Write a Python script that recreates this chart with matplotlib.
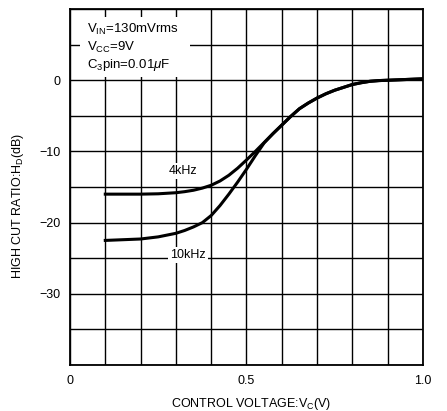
import numpy as np
import matplotlib
matplotlib.use("Agg")
import matplotlib.pyplot as plt
from matplotlib.patches import Rectangle

plt.rcParams["font.family"] = ["Liberation Sans", "DejaVu Sans"]
plt.rcParams["mathtext.fontset"] = "custom"
plt.rcParams["mathtext.rm"] = "Liberation Sans"
plt.rcParams["mathtext.it"] = "Liberation Sans:italic"

# Control voltage Vc (V)
vc = [0.10, 0.15, 0.20, 0.25, 0.30, 0.325, 0.35, 0.375, 0.40, 0.425, 0.45, 0.475,
      0.50, 0.525, 0.55, 0.575, 0.60, 0.625, 0.65, 0.675, 0.70, 0.725, 0.75,
      0.775, 0.80, 0.825, 0.85, 0.875, 0.90, 0.95, 1.00]
# High cut ratio HD (dB)
hd_4k = [-16.0, -16.0, -16.0, -15.95, -15.8, -15.65, -15.45, -15.15, -14.75, -14.15,
         -13.35, -12.35, -11.2, -10.0, -8.75, -7.5, -6.3, -5.1, -4.0, -3.2, -2.5,
         -1.9, -1.4, -1.0, -0.6, -0.35, -0.15, -0.05, 0.0, 0.1, 0.2]
hd_10k = [-22.5, -22.4, -22.3, -22.0, -21.5, -21.1, -20.6, -20.0, -19.0, -17.6,
          -16.0, -14.3, -12.5, -10.6, -8.8, -7.5, -6.3, -5.1, -4.0, -3.2, -2.5,
          -1.9, -1.4, -1.0, -0.6, -0.35, -0.15, -0.05, 0.0, 0.1, 0.2]

x_grid = np.round(np.arange(0, 1.01, 0.1), 1)
x_labels = ["0", "", "", "", "", "0.5", "", "", "", "", "1.0"]
y_grid = np.arange(-40, 11, 5)
y_labels = {0: "0", -10: "\u221210", -20: "\u221220", -30: "\u221230"}
conditions = ["V$_\\mathrm{IN}$=130mVrms", "V$_\\mathrm{CC}$=9V",
              "C$_\\mathrm{3}$pin=0.01$\\mu$F"]

fig = plt.figure(figsize=(4.47, 4.11), dpi=100)
ax = fig.add_axes([0.1566, 0.1119, 0.7897, 0.8661])

ax.plot(vc, hd_4k, color="black", lw=2.2, zorder=3, solid_joinstyle="round")
ax.plot(vc, hd_10k, color="black", lw=2.2, zorder=3, solid_joinstyle="round")

ax.set_xlim(0, 1.0)
ax.set_ylim(-40, 10)
ax.set_xticks(x_grid)
ax.set_xticklabels(x_labels)
ax.set_yticks(y_grid)
ax.set_yticklabels([y_labels.get(int(v), "") for v in y_grid])
ax.tick_params(length=0, labelsize=9)
ax.tick_params(axis="x", pad=7)
ax.tick_params(axis="y", pad=7)
ax.grid(True, color="black", lw=1.0)
ax.set_axisbelow(True)
for s in ax.spines.values():
    s.set_linewidth(1.3)

ax.set_xlabel("CONTROL VOLTAGE:V$_\\mathrm{C}$(V)", fontsize=9)
ax.xaxis.set_label_coords(0.513, -0.088)
ax.set_ylabel("HIGH CUT RATIO:H$_\\mathrm{D}$(dB)", fontsize=9)
ax.yaxis.set_label_coords(-0.125, 0.447)

# conditions box
ax.add_patch(Rectangle((0.028, 0.809), 0.312, 0.169, transform=ax.transAxes,
                       fc="white", ec="none", zorder=2.5))
for i, line in enumerate(conditions):
    ax.text(0.048, 0.943 - 0.0505 * i, line, transform=ax.transAxes, fontsize=9.5,
            va="center", ha="left", zorder=5)

ax.text(0.32, -12.8, "4kHz", fontsize=9, ha="center", va="center", zorder=4,
        bbox=dict(boxstyle="square,pad=0.15", fc="white", ec="none"))
ax.text(0.334, -24.6, "10kHz", fontsize=9, ha="center", va="center", zorder=4,
        bbox=dict(boxstyle="square,pad=0.15", fc="white", ec="none"))

fig.savefig("out.png", dpi=100)
